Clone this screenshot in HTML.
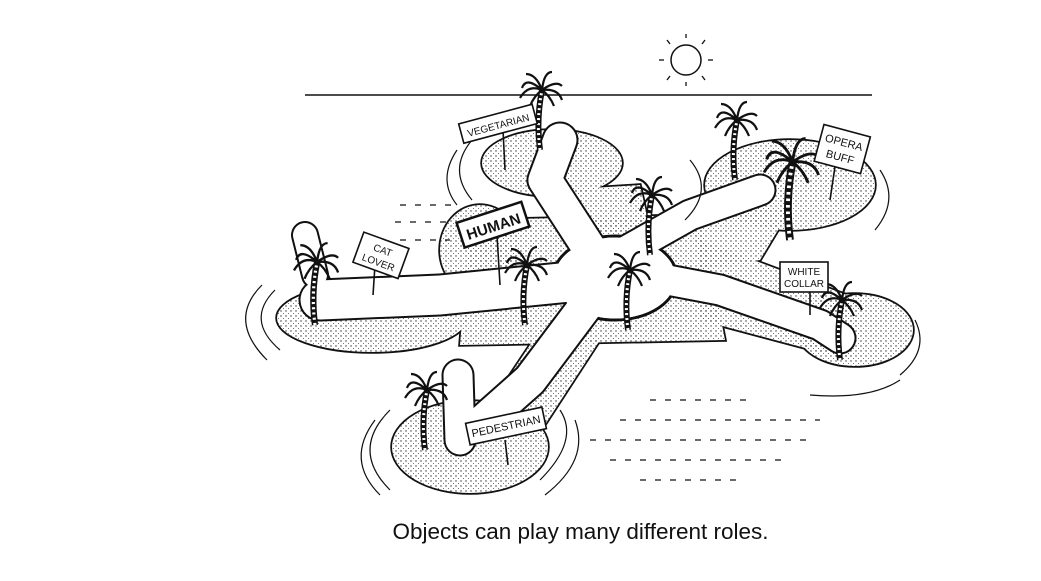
<!DOCTYPE html>
<html><head><meta charset="utf-8"><style>
html,body{margin:0;padding:0;background:#fff;}
body{width:1041px;height:581px;overflow:hidden;position:relative;}
.cap{position:absolute;left:0;width:1161px;top:519px;text-align:center;font-family:"Liberation Sans",sans-serif;font-size:22.5px;color:#111;}
svg text{font-family:"Liberation Sans",sans-serif;fill:#111;}
</style></head><body>
<svg width="1041" height="581" viewBox="0 0 1041 581" style="position:absolute;left:0;top:0">
<defs>
<pattern id="dots" width="5" height="5" patternUnits="userSpaceOnUse">
<circle cx="1" cy="1" r="0.7" fill="#333"/><circle cx="3.5" cy="3.5" r="0.55" fill="#555"/>
</pattern>
<g id="palm">
<path d="M0,0 q-4,-30 2,-60" stroke="#111" stroke-width="6" fill="none"/>
<path d="M0,0 q-4,-30 2,-60" stroke="#fff" stroke-width="3" fill="none" stroke-dasharray="2 3"/>
<path d="M2,-60 q-14,-6 -22,8 M2,-60 q-16,-14 -20,-2 M2,-60 q-6,-16 -16,-16 M2,-60 q2,-18 10,-18 M2,-60 q14,-10 20,-4 M2,-60 q16,-2 20,10 M2,-60 q8,6 12,16 M2,-60 q-8,6 -12,16" stroke="#111" stroke-width="2.2" fill="none"/>
</g>
<g id="isl">
<ellipse cx="552" cy="163" rx="70" ry="33"/>
<ellipse cx="372" cy="318" rx="95" ry="34"/>
<ellipse cx="480" cy="250" rx="40" ry="45"/>
<path d="M470,220 L700,215 L725,340 L460,345 Z"/>
<path d="M560,190 L640,185 L650,230 L575,235 Z"/>
<ellipse cx="790" cy="185" rx="85" ry="45"/>
<path d="M690,200 L790,210 L760,260 L700,270 Z"/>
<path d="M700,240 L860,300 L850,360 L700,320 Z"/>
<ellipse cx="855" cy="330" rx="58" ry="36"/>
<ellipse cx="470" cy="447" rx="78" ry="46"/>
<path d="M540,330 L600,340 L535,440 L480,420 Z"/>
</g>
</defs>
<line x1="305" y1="95" x2="872" y2="95" stroke="#111" stroke-width="1.5"/>
<circle cx="686" cy="60" r="15" fill="none" stroke="#111" stroke-width="1.5"/>
<g stroke="#111" stroke-width="1.3">
<line x1="686" y1="38" x2="686" y2="34"/><line x1="686" y1="82" x2="686" y2="86"/>
<line x1="664" y1="60" x2="659" y2="60"/><line x1="708" y1="60" x2="713" y2="60"/>
<line x1="670" y1="44" x2="667" y2="40"/><line x1="702" y1="44" x2="705" y2="40"/>
<line x1="670" y1="76" x2="667" y2="80"/><line x1="702" y1="76" x2="705" y2="80"/>
</g>
<use href="#isl" fill="#111" stroke="#111" stroke-width="3.5"/>
<use href="#isl" fill="#fff" stroke="none"/>
<use href="#isl" fill="url(#dots)" stroke="none"/>
<g fill="none" stroke-linecap="round" stroke-linejoin="round">
<g stroke="#111">
<path d="M600,265 L545,180 L560,140" stroke-width="37"/>
<path d="M610,260 L690,215 L760,190" stroke-width="33"/>
<path d="M615,270 L720,290 L820,325 L840,338" stroke-width="33"/>
<path d="M590,280 L440,295 L320,300" stroke-width="43"/>
<path d="M590,300 L530,380 L485,420" stroke-width="37"/>
<ellipse cx="615" cy="278" rx="62" ry="42" stroke-width="3"/>
<path d="M315,275 L305,235" stroke-width="28"/>
<path d="M460,440 L458,375" stroke-width="33"/>
</g>
<g stroke="#fff">
<path d="M600,265 L545,180 L560,140" stroke-width="33"/>
<path d="M610,260 L690,215 L760,190" stroke-width="29"/>
<path d="M615,270 L720,290 L820,325 L840,338" stroke-width="29"/>
<path d="M590,280 L440,295 L320,300" stroke-width="39"/>
<path d="M590,300 L530,380 L485,420" stroke-width="33"/>
<ellipse cx="615" cy="278" rx="60" ry="40" fill="#fff"/>
<path d="M315,275 L305,235" stroke-width="24"/>
<path d="M460,440 L458,375" stroke-width="29"/>
</g>
</g>
<g fill="none" stroke="#111" stroke-width="1.2">
<path d="M472,140 q-25,30 0,60"/><path d="M457,150 q-20,30 0,55"/>
<path d="M690,160 q25,30 -5,60"/><path d="M880,170 q20,30 -5,60"/>
<path d="M275,290 q-30,30 5,60"/><path d="M262,285 q-35,35 5,75"/>
<path d="M915,320 q15,30 -15,55"/><path d="M900,380 q-30,20 -90,15"/>
<path d="M390,410 q-40,40 0,80"/><path d="M375,420 q-30,40 5,75"/>
<path d="M560,410 q20,30 -20,70"/><path d="M575,420 q15,40 -30,75"/>
</g>
<g fill="none" stroke="#111" stroke-width="1.2" stroke-dasharray="6 9">
<path d="M400,205 h60 M395,222 h60 M400,240 h50"/>
<path d="M590,440 h220 M610,460 h180 M640,480 h100 M620,420 h200 M650,400 h100"/>
</g>
<use href="#palm" x="540" y="150"/>
<use href="#palm" transform="translate(315,325) scale(1.05)"/>
<use href="#palm" x="525" y="325"/>
<use href="#palm" x="628" y="330"/>
<use href="#palm" x="650" y="255"/>
<use href="#palm" x="735" y="180"/>
<use href="#palm" transform="translate(790,240) scale(1.3)"/>
<use href="#palm" x="840" y="360"/>
<use href="#palm" x="425" y="450"/>
<g stroke="#111" stroke-width="1.6" fill="#fff">
<line x1="503" y1="130" x2="505" y2="170"/>
<g transform="rotate(-15 497 124)"><rect x="460" y="114" width="76" height="20"/><text x="498" y="129" font-size="10" text-anchor="middle" stroke="none">VEGETARIAN</text></g>
<line x1="497" y1="235" x2="500" y2="285"/>
<g transform="rotate(-18 492 225)"><rect x="459" y="212" width="68" height="26" stroke-width="2.5"/><text x="493" y="232" font-size="15" font-weight="bold" text-anchor="middle" stroke="none">HUMAN</text></g>
<line x1="375" y1="265" x2="373" y2="295"/>
<g transform="rotate(20 380 255)"><rect x="357" y="239" width="48" height="32"/><text x="381" y="253" font-size="10" text-anchor="middle" stroke="none">CAT</text><text x="381" y="266" font-size="10" text-anchor="middle" stroke="none">LOVER</text></g>
<line x1="836" y1="160" x2="830" y2="200"/>
<g transform="rotate(15 842 150)"><rect x="818" y="130" width="48" height="38"/><text x="842" y="146" font-size="11" text-anchor="middle" stroke="none">OPERA</text><text x="842" y="161" font-size="11" text-anchor="middle" stroke="none">BUFF</text></g>
<line x1="810" y1="290" x2="810" y2="315"/>
<rect x="780" y="262" width="48" height="30"/><text x="804" y="275" font-size="10" text-anchor="middle" stroke="none">WHITE</text><text x="804" y="287" font-size="10" text-anchor="middle" stroke="none">COLLAR</text>
<line x1="505" y1="440" x2="508" y2="465"/>
<g transform="rotate(-12 506 426)"><rect x="467" y="415" width="78" height="22"/><text x="506" y="430" font-size="11" text-anchor="middle" stroke="none">PEDESTRIAN</text></g>
</g>
</svg>
<div class="cap">Objects can play many different roles.</div>
</body></html>
